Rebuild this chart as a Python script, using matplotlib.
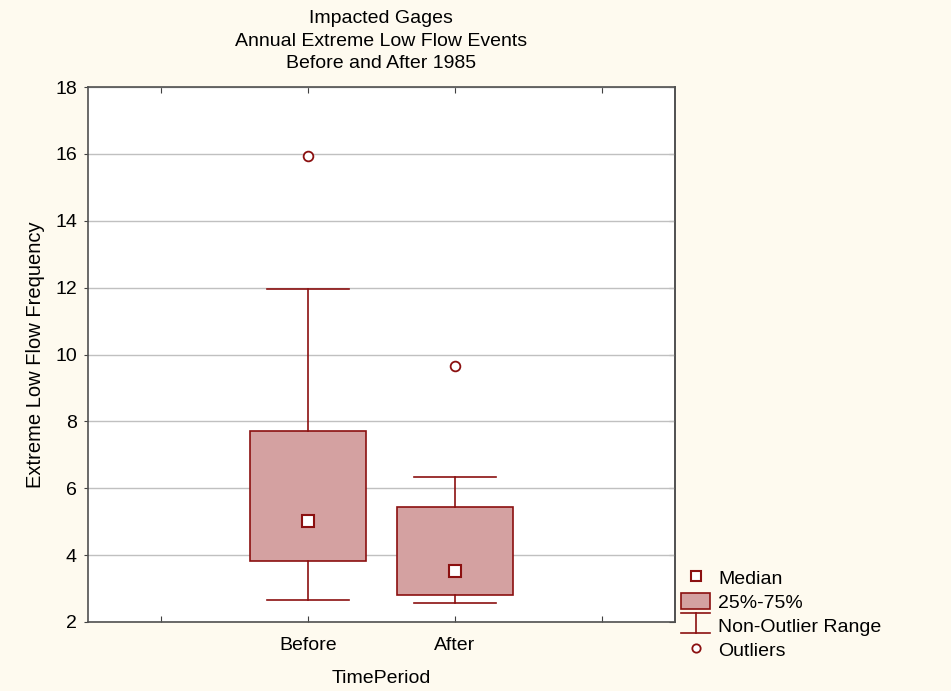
import matplotlib
matplotlib.use("Agg")
import matplotlib.pyplot as plt
from matplotlib.lines import Line2D
from matplotlib.patches import Patch
from matplotlib.legend_handler import HandlerBase

plt.rcParams['font.family'] = ['Liberation Sans', 'DejaVu Sans']

# ---- data ----
categories = ["Before", "After"]
positions = [2, 3]
q1 = [3.82, 2.81]
medians = [5.02, 3.52]
q3 = [7.71, 5.44]
whisker_low = [2.66, 2.57]
whisker_high = [11.95, 6.34]
outliers = [[15.95], [9.66]]
yticks = [2, 4, 6, 8, 10, 12, 14, 16, 18]

BG = "#FEFAEF"
EDGE = "#8B1010"
FACE = "#D4A1A1"
FS = 14

fig = plt.figure(figsize=(9.51, 6.91), dpi=100, facecolor=BG)
ax = fig.add_axes([88/951, 1-622/691, (675-88)/951, (622-87)/691])
ax.set_facecolor("white")

stats = []
for i, c in enumerate(categories):
    stats.append(dict(label=c, q1=q1[i], med=medians[i], q3=q3[i],
                      whislo=whisker_low[i], whishi=whisker_high[i],
                      fliers=outliers[i]))

ax.bxp(stats, positions=positions, widths=0.79, patch_artist=True,
       showfliers=True, manage_ticks=False,
       boxprops=dict(facecolor=FACE, edgecolor=EDGE, linewidth=1.2),
       whiskerprops=dict(color=EDGE, linewidth=1.2),
       capprops=dict(color=EDGE, linewidth=1.2),
       capwidths=0.56,
       medianprops=dict(linewidth=0),
       flierprops=dict(marker='o', markerfacecolor='white', markeredgecolor=EDGE,
                       markersize=7, markeredgewidth=1.3))
ax.plot(positions, medians, linestyle='none', marker='s', markersize=8,
        markerfacecolor='white', markeredgecolor=EDGE, markeredgewidth=1.5, zorder=5)

ax.set_xlim(0.5, 4.5)
ax.set_ylim(2, 18)
ax.set_xticks([1, 2, 3, 4])
ax.set_xticklabels(["", "Before", "After", ""], fontsize=FS)
ax.set_yticks(yticks)
ax.set_yticklabels([str(v) for v in yticks], fontsize=FS)
ax.yaxis.grid(True, color="#C0C0C0", linewidth=1)
ax.set_axisbelow(True)
ax.tick_params(axis='x', direction='in', top=True, length=4, color="#404040", pad=11)
ax.tick_params(axis='y', direction='out', length=3, color="#404040", pad=5)
sec = ax.secondary_yaxis('right')
sec.set_yticks(yticks)
sec.set_yticklabels([])
sec.tick_params(direction='in', length=4, color="#404040")
sec.spines['right'].set_color("#505050")
sec.spines['right'].set_linewidth(1.2)
for s in ax.spines.values():
    s.set_color("#505050")
    s.set_linewidth(1.2)

ax.set_xlabel("TimePeriod", fontsize=FS, labelpad=11)
ax.set_ylabel("Extreme Low Flow Frequency", fontsize=14.5, labelpad=7)
fig.text(381/951, 1-10/691, "Impacted Gages\nAnnual Extreme Low Flow Events\nBefore and After 1985",
         ha='center', va='top', fontsize=14, linespacing=1.43)


class WhiskerHandler(HandlerBase):
    def create_artists(self, legend, orig_handle, xdescent, ydescent, width, height, fontsize, trans):
        cx = width / 2 - xdescent
        top = height * 1.15
        bot = -height * 0.08
        l1 = Line2D([0 - xdescent, width - xdescent], [top, top], color=EDGE, lw=1.2, transform=trans)
        l2 = Line2D([cx, cx], [top, bot], color=EDGE, lw=1.2, transform=trans)
        l3 = Line2D([0 - xdescent, width - xdescent], [bot, bot], color=EDGE, lw=1.2, transform=trans)
        return [l1, l2, l3]


class RangeKey:
    pass


h_med = Line2D([], [], linestyle='none', marker='s', markersize=7, markerfacecolor='white',
               markeredgecolor=EDGE, markeredgewidth=1.5)
h_box = Patch(facecolor=FACE, edgecolor=EDGE, linewidth=1.2)
h_rng = RangeKey()
h_out = Line2D([], [], linestyle='none', marker='o', markersize=6, markerfacecolor='white',
               markeredgecolor=EDGE, markeredgewidth=1.3)
fig.legend([h_med, h_box, h_rng, h_out], ["Median", "25%-75%", "Non-Outlier Range", "Outliers"],
           handler_map={RangeKey: WhiskerHandler()},
           loc='upper left', bbox_to_anchor=(681/951, 1-569/691), frameon=False,
           fontsize=FS, handlelength=1.5, handleheight=0.9, handletextpad=0.4,
           labelspacing=0.27, borderaxespad=0, borderpad=0)
fig.savefig("out.png", dpi=100, facecolor=BG)
